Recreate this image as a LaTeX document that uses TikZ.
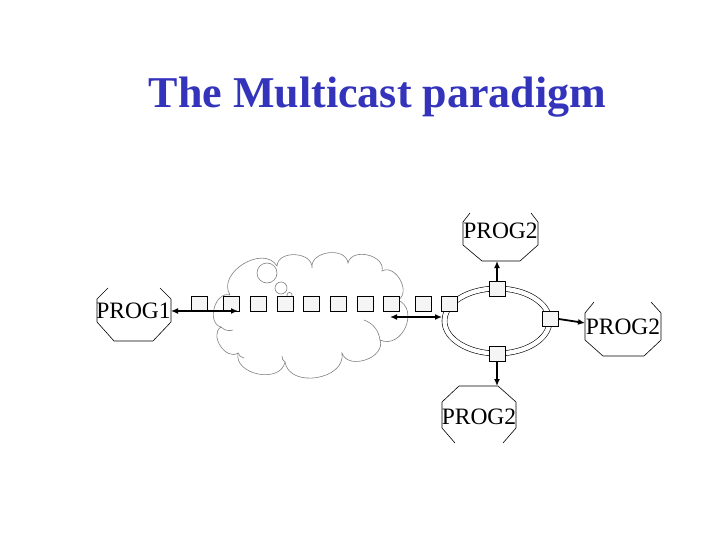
\documentclass[tikz,border=0pt]{standalone}
\usepackage{fontspec}
\setmainfont{Liberation Serif}
\usetikzlibrary{arrows.meta}
\definecolor{titleblue}{RGB}{51,51,187}
\begin{document}
\begin{tikzpicture}[x=1pt,y=-1pt,
  sq/.style={draw=black,fill=gray!8,line width=0.8pt,minimum width=16pt,minimum height=15pt,inner sep=0pt},
  prog/.style={font=\fontsize{23.5}{26}\selectfont,inner sep=0pt,anchor=base},
  octo/.style={draw=black,line width=0.6pt},
  cloudline/.style={draw=gray,line width=0.6pt},
  link/.style={line width=1.8pt,{Latex[length=7pt,width=6pt]}-{Latex[length=7pt,width=6pt]}},
  uplink/.style={line width=1.8pt,-{Latex[length=7pt,width=6pt]}}]
\useasboundingbox (0,0) rectangle (720,540);

% title
\node[font=\fontsize{44}{48}\selectfont\bfseries,text=titleblue,inner sep=0pt,anchor=base] (title) at (377.5,108) {The Multicast paradigm};

% cloud
\path[cloudline,looseness=1.2] (230,295) to[bend left=90] (277,266) to[bend left=90] (312,268)
  to[bend left=90] (348,263) to[bend left=90] (382,271) to[bend left=90] (398,300)
  to[bend left=90,looseness=1.4] (380,340) to[bend left=90] (342,353)
  to[bend left=90] (285,362) to[bend left=90] (238,353) to[bend left=90] (221,327)
  to[bend left=90] (230,295);
\draw[cloudline] (380,340) to[bend right=30] (364,320);
\draw[cloudline] (221,327) to[bend right=30] (233,330);
\draw[cloudline] (285,362) to[bend left=30] (282,356);
\draw[cloudline] (238,353) to[bend right=30] (244,358);
\draw[cloudline,fill=white] (267,273) circle[radius=10];
\draw[cloudline,fill=white] (281,288) circle[radius=6];
\draw[cloudline,fill=white] (289.5,295) circle[radius=2.6];

% ring
\draw[black,line width=0.6pt,double=white,double distance=4.4pt] (497,321) ellipse[x radius=52.5,y radius=32.5];

% octagons and labels
\node[prog] (prog1) at (133.5,318) {PROG1};
\draw[octo] (108,288) -- (97,299) -- (97,322) -- (114,341) -- (153,341) -- (171,322) -- (171,299) -- (160,288);
\node[prog] (progtop) at (500.5,238.5) {PROG2};
\draw[octo] (470,213) -- (463,222) -- (463,245) -- (482,261) -- (520,261) -- (538,245) -- (538,222) -- (531,213);
\node[prog] (progright) at (623,334) {PROG2};
\draw[octo] (594,302) -- (585,313) -- (585,340) -- (603,356) -- (644,356) -- (661,340) -- (661,313) -- (651,302);
\node[prog] (progbot) at (479,424) {PROG2};
\draw[octo] (455,443) -- (442,428) -- (442,402) -- (459,386) -- (498,386) -- (516,402) -- (516,428) -- (503,443);

% squares
\node[sq] (s1) at (199,303.5) {};
\node[sq] (s2) at (231,303.5) {};
\node[sq] (s3) at (258.5,303.5) {};
\node[sq] (s4) at (285,303.5) {};
\node[sq] (s5) at (311,303.5) {};
\node[sq] (s6) at (338,303.5) {};
\node[sq] (s7) at (365,303.5) {};
\node[sq] (s8) at (391,303.5) {};
\node[sq] (s9) at (423.5,303.5) {};
\node[sq] (s10) at (449,303.5) {};
\node[sq] (rt) at (497,289) {};
\node[sq] (rr) at (550.5,319) {};
\node[sq] (rb) at (497,354) {};

% connector end points
\coordinate (p1r) at (171,311);
\coordinate (a1e) at (238,311);
\coordinate (a2s) at (390,317);
\coordinate (a2e) at (442,317);
\coordinate (t2b) at (497,261);
\coordinate (r2l) at (585,323);
\coordinate (b2t) at (497,386);

% arrows
\draw[link] (p1r) -- (a1e);
\draw[link] (a2s) -- (a2e);
\draw[uplink] (rt.north) -- (t2b);
\draw[uplink] (rr.east) -- (r2l);
\draw[uplink] (rb.south) -- (b2t);
\end{tikzpicture}
\end{document}
